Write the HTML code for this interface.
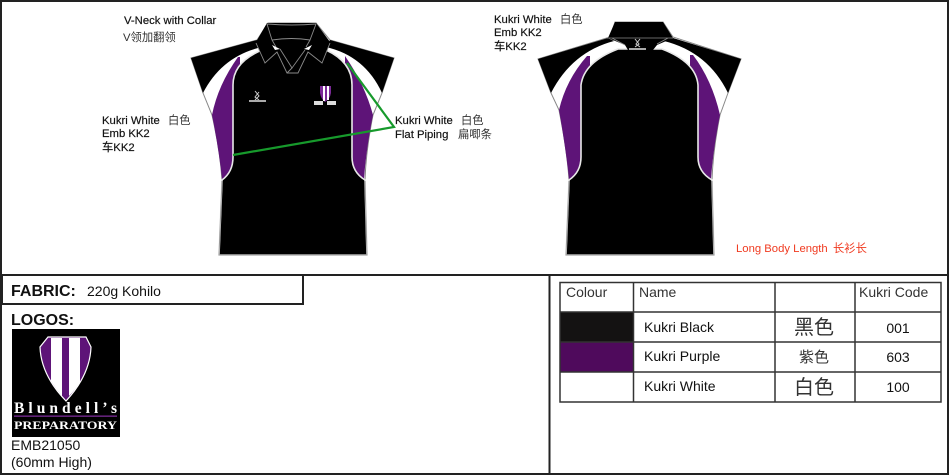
<!DOCTYPE html>
<html><head><meta charset="utf-8"><style>
html,body{margin:0;padding:0;background:#fff}
svg{display:block}
text{font-family:"Liberation Sans","Noto Sans CJK SC",sans-serif;fill:#111}
.l{font-size:11.300px;stroke:#111;stroke-width:.18}
.c{font-size:11.300px;fill:#333}
</style></head><body>
<svg width="950" height="476" viewBox="0 0 950 476" xmlns="http://www.w3.org/2000/svg">
<rect width="950" height="476" fill="#fff"/>
<!-- frame -->
<g fill="none" stroke="#222" stroke-width="2">
<rect x="1" y="1" width="947" height="473"/>
<line x1="1" y1="275" x2="948" y2="275"/>
<line x1="549.5" y1="275" x2="549.5" y2="474"/>
<rect x="2" y="275" width="301" height="29"/>
</g>
<!-- front shirt -->
<g>
<path d="M191,58 L257,40 L268,23 L316,23 L330,40 L394,58 L382,93 L373,115 Q366,150 365,180 L367,255 L219,255 L222,180 Q220,150 212,115 L203,93 Z" fill="#fff" stroke="#888" stroke-width="1"/>
<path d="M191,58 L257,40 L262,47 Q222,56 203,93 Z" fill="#000"/>
<path d="M394,58 L330,40 L326,47 Q365,56 382,93 Z" fill="#000"/>
<path d="M238,57 Q218,85 212,115 Q219,150 222,179 L240,172 L240,57 Z" fill="#5e1478"/>
<path d="M345,56 Q365,85 373,115 Q366,150 364,179 L345,172 Z" fill="#5e1478"/>
<path d="M222,180 Q233,172 233,157 L233,85 Q233,62 262,50 L326,50 Q352,62 352,85 L352,157 Q352,172 365,180 L367,255 L219,255 Z" fill="#000" stroke="#e8e8e8" stroke-width="1.600"/>
<path d="M222,181 L219,255 L367,255 L365,181" fill="none" stroke="#999" stroke-width="1"/>
<path d="M256,42 L267,23 L316,23 L330,42 L322,63 L308,53 L298,73 L287,73 L277,53 L265,63 Z" fill="#000"/>
<g fill="none" stroke="#8a8a8a" stroke-width="0.9">
<path d="M267,24 Q292,26 316,24"/>
<path d="M256,43 L265,63 L277,52 L287,73 L298,73 L308,52 L322,63 L330,43"/>
<path d="M267,24 L272,40 L276,47 M316,24 L310,40 L306,47"/>
<path d="M272,40 Q292,37 310,40"/>
<path d="M280,49 L292,68 L305,50"/>
<path d="M292,68 L287,73"/>
</g>
<path d="M272,45 L280,49 L275,50Z M312,45 L304,49 L309,50Z" fill="#fff"/>
<!-- front logos -->
<path d="M255,91 L259,96 L255,100 M259,92 L255,97 L259,100" stroke="#ccc" stroke-width="1" fill="none"/>
<rect x="249" y="100" width="17" height="2" fill="#aaa"/>
<path d="M320,86 L331,86 L331,93 Q330,99 325,102 Q321,99 320,93 Z" fill="#7a2a96"/>
<path d="M323,86 H325 V101 H323 Z M327,86 H329 V100 H327 Z" fill="#fff"/>
<rect x="314" y="101" width="9" height="4" fill="#ddd"/>
<rect x="327" y="101" width="9" height="4" fill="#ddd"/>
<!-- green lines -->
<path d="M347,63 L394,127 L233,155" fill="none" stroke="#179a2c" stroke-width="2.200"/>
</g>
<!-- back shirt -->
<g>
<path d="M538,59 L610,37 L615,22 L663,22 L673,37 L741,59 L728,93 L720,115 Q713,150 712,180 L714,255 L566,255 L569,180 Q567,150 559,110 L551,93 Z" fill="#fff" stroke="#888" stroke-width="1"/>
<path d="M538,59 L608,38 L614,41 Q572,52 551,93 Z" fill="#000"/>
<path d="M741,59 L673,38 L664,41 Q708,52 728,93 Z" fill="#000"/>
<path d="M587,56 Q566,80 559,110 Q566,150 569,179 L590,170 L590,56 Z" fill="#5e1478"/>
<path d="M693,55 Q712,80 720,115 Q713,150 711,179 L690,170 L690,55 Z" fill="#5e1478"/>
<path d="M569,180 Q581,172 581,157 L581,85 Q584,62 618,49 L662,49 Q696,62 698,85 L698,157 Q698,172 712,180 L714,255 L566,255 Z" fill="#000" stroke="#e8e8e8" stroke-width="1.600"/>
<path d="M569,181 L566,255 L714,255 L712,181" fill="none" stroke="#999" stroke-width="1"/>
<path d="M608,38 L615,22 L663,22 L673,38 L657,45 L653,50 L628,50 L625,45 Z" fill="#000"/>
<path d="M607,38 H673 M612,38 L625,45 M668,38 L657,44" stroke="#8a8a8a" stroke-width="0.800" fill="none"/>
<path d="M635,39 L639,44 L635,47 M640,39 L636,44 L640,47" stroke="#ccc" stroke-width="1" fill="none"/>
<rect x="629" y="48" width="17" height="2" fill="#aaa"/>
</g>
<!-- annotations -->
<text class="l" x="124" y="24">V-Neck with Collar</text>
<text class="c" x="123" y="41">V领加翻领</text>
<text class="l" x="102" y="124">Kukri White</text><text class="c" x="168" y="124">白色</text>
<text class="l" x="102" y="137">Emb KK2</text>
<text class="l" x="102" y="151">车KK2</text>
<text class="l" x="395" y="124">Kukri White</text><text class="c" x="461" y="124">白色</text>
<text class="l" x="395" y="138">Flat Piping</text><text class="c" x="458" y="138">扁唧条</text>
<text class="l" x="494" y="23">Kukri White</text><text class="c" x="560" y="23">白色</text>
<text class="l" x="494" y="36">Emb KK2</text>
<text class="l" x="494" y="50">车KK2</text>
<text x="736" y="252" font-size="11.300" style="fill:#f03a20">Long Body Length</text>
<text x="833" y="252" font-size="11.300" style="fill:#f03a20">长衫长</text>
<!-- fabric / logos -->
<text x="11" y="296" font-size="16" font-weight="700">FABRIC:</text>
<text x="87" y="296" font-size="14">220g Kohilo</text>
<text x="11" y="325" font-size="16" font-weight="700">LOGOS:</text>
<rect x="12" y="329" width="108" height="108" fill="#000"/>
<path d="M48,337 L86,337 L91,347 Q90,375 66,401 Q41,375 40,347 Z" fill="#5e1478" stroke="#fff" stroke-width="1.200"/>
<path d="M51,338 H62 V396 Q56,389 51,381 Z M69,338 H80 V382 Q75,390 69,396 Z" fill="#fff"/>
<text x="14" y="413" font-size="15.500" textLength="103" style="font-family:'Liberation Serif',serif;fill:#fff;font-weight:700">Blundell’s</text>
<rect x="14" y="415.500" width="103" height="1.300" fill="#7a2a96"/>
<text x="14" y="429" font-size="11.500" style="font-family:'Liberation Serif',serif;fill:#fff;font-weight:700" textLength="103" lengthAdjust="spacingAndGlyphs">PREPARATORY</text>
<text x="11" y="450" font-size="14">EMB21050</text>
<text x="11" y="467" font-size="14">(60mm High)</text>
<!-- table -->
<rect x="560" y="312" width="73" height="30" fill="#141212"/>
<rect x="560" y="342" width="73" height="30" fill="#4f0a5c"/>
<g stroke="#333" stroke-width="1.500" fill="none">
<rect x="560" y="282.500" width="381" height="119.500"/>
<path d="M633.500,282 V402 M775,282 V402 M855,282 V402 M560,312 H941 M560,342 H941 M560,372 H941"/>
</g>
<text x="566" y="297" font-size="14" style="fill:#333">Colour</text>
<text x="639" y="297" font-size="14" style="fill:#333">Name</text>
<text x="859" y="297" font-size="14" style="fill:#333">Kukri Code</text>
<text x="644" y="332" font-size="14">Kukri Black</text>
<text x="644" y="361" font-size="14">Kukri Purple</text>
<text x="644" y="391" font-size="14">Kukri White</text>
<text x="794" y="334" font-size="20" style="fill:#333">黑色</text>
<text x="799" y="362" font-size="15" style="fill:#333">紫色</text>
<text x="794" y="394" font-size="20" style="fill:#333">白色</text>
<text x="898" y="333" font-size="14" text-anchor="middle">001</text>
<text x="898" y="362" font-size="14" text-anchor="middle">603</text>
<text x="898" y="392" font-size="14" text-anchor="middle">100</text>
</svg>
</body></html>
